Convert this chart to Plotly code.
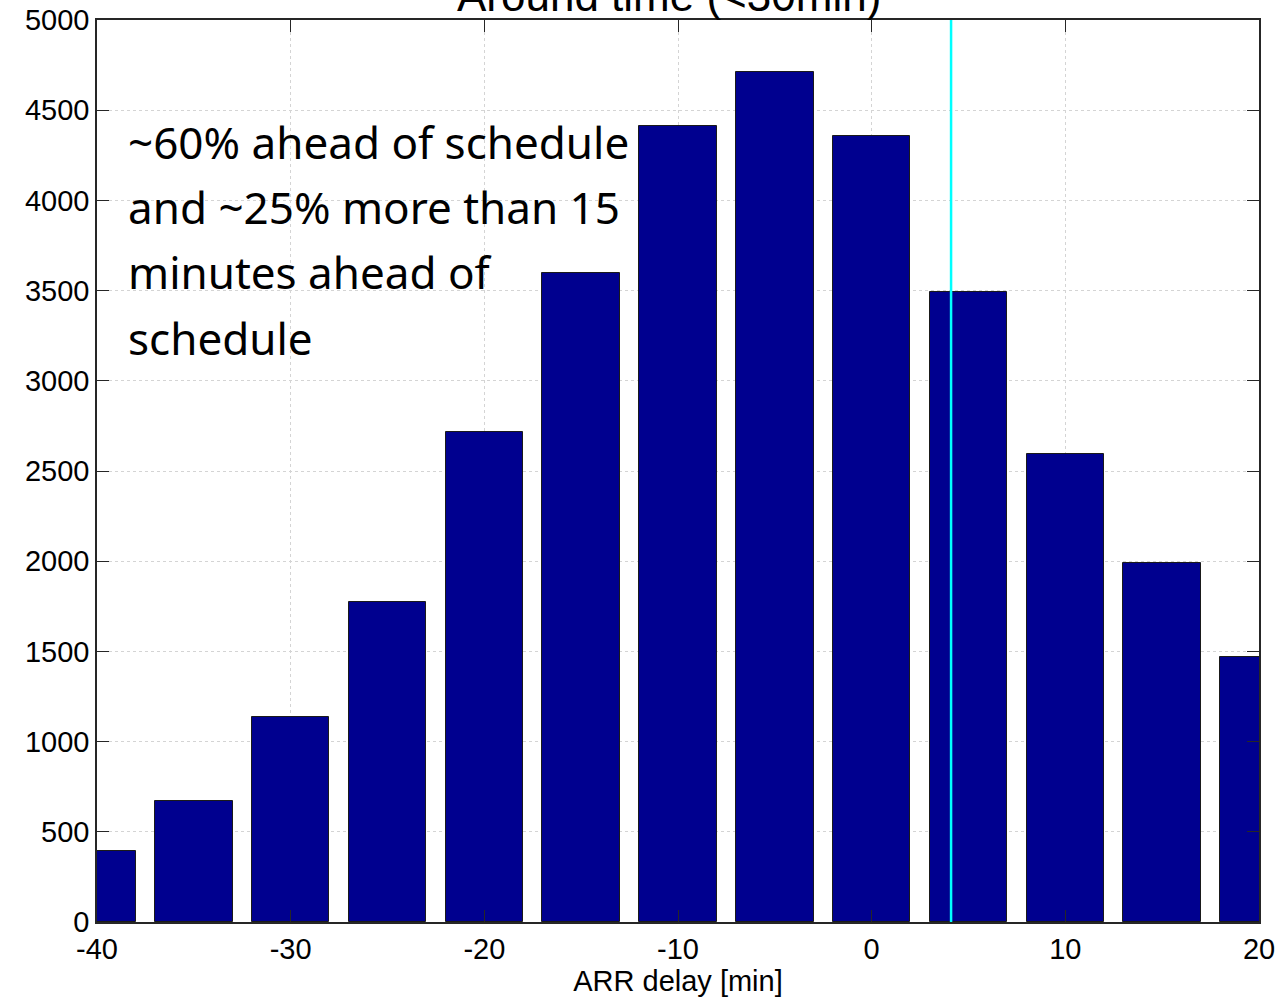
import plotly.graph_objects as go

# Data
bin_centers = [-40, -35, -30, -25, -20, -15, -10, -5, 0, 5, 10, 15, 20]
counts = [392, 670, 1135, 1775, 2715, 3595, 4415, 4710, 4355, 3493, 2594, 1990, 1469]
bar_width = 4
marker_x = 4.1
title_text = "Around time (<30min)"
xlabel_text = "ARR delay [min]"
note_lines = ["~60% ahead of schedule", "and ~25% more than 15", "minutes ahead of", "schedule"]
x_ticks = [-40, -30, -20, -10, 0, 10, 20]
y_ticks = [0, 500, 1000, 1500, 2000, 2500, 3000, 3500, 4000, 4500, 5000]

W, H = 1281, 1003
L, R, T, B = 97, 22, 20, 81

fig = go.Figure()
fig.add_trace(go.Bar(
    x=bin_centers, y=counts, width=bar_width,
    marker=dict(color="#00008F", line=dict(color="#1a1a1a", width=1)),
    showlegend=False,
))
fig.add_trace(go.Scatter(
    x=[marker_x, marker_x], y=[0, 5000], mode="lines",
    line=dict(color="#00FFFF", width=2.5), showlegend=False,
))

axis_common = dict(
    showline=True, linecolor="#262626", linewidth=1.5, mirror="ticks",
    ticks="inside", ticklen=12, tickcolor="#262626", tickwidth=1,
    showgrid=True, gridcolor="#d4d4d4", griddash="dot", gridwidth=1,
    zeroline=False, automargin=False,
    tickfont=dict(family="Liberation Sans, Arial", size=29, color="#000000"),
)

fig.update_xaxes(range=[-40, 20], tickvals=x_ticks, ticktext=[str(v) for v in x_ticks],
                 title=dict(text=xlabel_text, font=dict(family="Liberation Sans, Arial", size=29, color="#000000"),
                            standoff=3),
                 **axis_common)
fig.update_yaxes(range=[0, 5000], tickvals=y_ticks, ticktext=[str(v) for v in y_ticks], **axis_common)

annotations = [dict(
    text=title_text, xref="paper", yref="paper", x=0.492, y=1.0,
    xanchor="center", yanchor="bottom", showarrow=False, yshift=-2,
    font=dict(family="Liberation Sans, Arial", size=44, color="#000000"),
)]
plot_h = H - T - B
baselines = [156, 221, 286.5, 352]
for line, bl in zip(note_lines, baselines):
    annotations.append(dict(
        text=line, xref="paper", yref="paper",
        x=(128 - L) / (W - L - R) - 0.0015, y=(H - B - bl) / plot_h,
        xanchor="left", yanchor="bottom", showarrow=False, yshift=-18,
        font=dict(family="Noto Sans", size=44, color="#000000"),
    ))

fig.update_layout(
    width=W, height=H,
    margin=dict(l=L, r=R, t=T, b=B),
    paper_bgcolor="white", plot_bgcolor="white",
    bargap=0,
    annotations=annotations,
)

fig.write_html("out.html")
